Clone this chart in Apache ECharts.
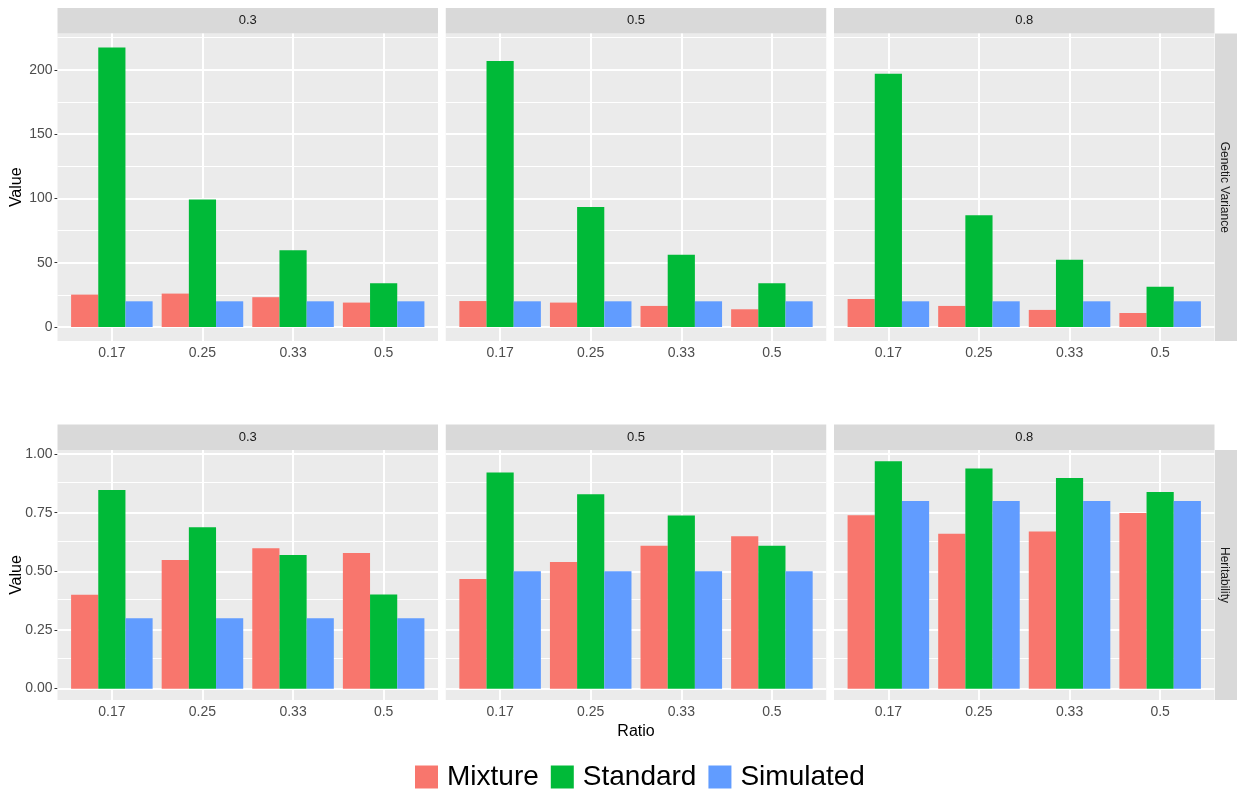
<!DOCTYPE html>
<html>
<head>
<meta charset="utf-8">
<script src="https://cdn.jsdelivr.net/npm/echarts@6/dist/echarts.min.js"></script>
<style>
  html, body { margin: 0; padding: 0; background: #fff; }
  #chart { width: 1237px; height: 793px; }
</style>
</head>
<body>
<div id="chart"></div>
<script>
var ratios = ['0.17', '0.25', '0.33', '0.5']
var facets = ['0.3', '0.5', '0.8']
var rowNames = ['Genetic Variance', 'Heritability']
var methods = ['Mixture', 'Standard', 'Simulated']

// genetic variance, one inner list per facet (0.3, 0.5, 0.8)
var gvMixture = [[25.2, 26.0, 23.2, 19.0], [20.2, 19.0, 16.4, 13.8], [21.8, 16.4, 13.3, 10.9]]
var gvStandard = [[217.4, 99.1, 59.8, 34.0], [206.8, 93.4, 56.3, 34.0], [197.0, 86.9, 52.4, 31.4]]
var gvSimulated = [[20, 20, 20, 20], [20, 20, 20, 20], [20, 20, 20, 20]]

// heritability
var hMixture = [[0.40, 0.548, 0.599, 0.578], [0.467, 0.540, 0.609, 0.650], [0.739, 0.660, 0.670, 0.749]]
var hStandard = [[0.847, 0.688, 0.570, 0.401], [0.921, 0.829, 0.738, 0.609], [0.969, 0.939, 0.898, 0.838]]
var hSimulated = [[0.3, 0.3, 0.3, 0.3], [0.5, 0.5, 0.5, 0.5], [0.8, 0.8, 0.8, 0.8]]

var gvTicks = [0, 50, 100, 150, 200]
var gvMinor = [25, 75, 125, 175, 225]
var hTicks = [0, 0.25, 0.5, 0.75, 1]
var hMinor = [0.125, 0.375, 0.625, 0.875]

var colors = ['#F8766D', '#00BA38', '#619CFF']
var font = '"Liberation Sans", Arial, sans-serif'

// layout of the facet panels
var panelLeft = [57.5, 445.75, 834]
var panelW = 380.5
var inset = panelW / 4.2 * 0.1
var stripH = 25.5

var rows = [
  { data: [gvMixture, gvStandard, gvSimulated], ticks: gvTicks, minor: gvMinor, top: 33.5, height: 307.5,
    fmt: function (v) { return String(v) } },
  { data: [hMixture, hStandard, hSimulated], ticks: hTicks, minor: hMinor, top: 450, height: 250,
    fmt: function (v) { return v.toFixed(2) } }
]

var grid = []
var xAxis = []
var yAxis = []
var series = []
var graphic = []

function rangeOf (lists) {
  var mx = 0
  lists.forEach(function (l) { l.forEach(function (f) { f.forEach(function (v) { mx = Math.max(mx, v) }) }) })
  // ggplot style 5% expansion
  return [-mx * 0.05, mx * 1.05]
}

rows.forEach(function (row, r) {
  var rng = rangeOf(row.data)
  facets.forEach(function (facet, c) {
    var left = panelLeft[c]
    // outer grid: panel background, y labels, horizontal grid lines
    var g = grid.length
    grid.push({ left: left, top: row.top, width: panelW, height: row.height, show: true,
      backgroundColor: '#EBEBEB', borderWidth: 0 })
    xAxis.push({ gridIndex: g, type: 'value', show: false, min: 0, max: 1 })
    yAxis.push({
      gridIndex: g, type: 'value', min: rng[0], max: rng[1],
      axisLine: { show: false },
      splitLine: { show: false },
      axisTick: { show: c === 0, customValues: row.ticks, length: 3, lineStyle: { color: '#333333', width: 1 } },
      axisLabel: { show: c === 0, customValues: row.ticks, formatter: row.fmt, color: '#4D4D4D',
        fontSize: 14, fontFamily: font, margin: 5 }
    })
    var hLines = row.ticks.map(function (v) { return { yAxis: v, lineStyle: { width: 2 } } })
      .concat(row.minor.map(function (v) { return { yAxis: v, lineStyle: { width: 1 } } }))
    series.push({
      type: 'line', xAxisIndex: g, yAxisIndex: g, data: [], silent: true,
      markLine: { silent: true, symbol: 'none', label: { show: false },
        lineStyle: { color: '#FFFFFF', type: 'solid' }, data: hLines }
    })

    // inner grid: bars on the category axis
    var k = grid.length
    grid.push({ left: left + inset, top: row.top, width: panelW - 2 * inset, height: row.height })
    xAxis.push({
      gridIndex: k, type: 'category', data: ratios,
      axisLine: { show: false },
      axisTick: { alignWithLabel: true, length: 3, lineStyle: { color: '#333333', width: 1 } },
      axisLabel: { color: '#4D4D4D', fontSize: 14, fontFamily: font, margin: 5 },
      splitLine: { show: false }
    })
    yAxis.push({ gridIndex: k, type: 'value', min: rng[0], max: rng[1], show: false, splitLine: { show: false } })
    series.push({
      type: 'line', xAxisIndex: k, yAxisIndex: k, data: [], silent: true,
      markLine: { silent: true, symbol: 'none', label: { show: false },
        lineStyle: { color: '#FFFFFF', type: 'solid', width: 2 },
        data: ratios.map(function (x) { return { xAxis: x } }) }
    })
    // bars sit on their own layer so the grid lines stay underneath
    methods.forEach(function (m, i) {
      series.push({
        name: m, type: 'bar', xAxisIndex: k, yAxisIndex: k, zlevel: 1,
        barGap: '0%', barCategoryGap: '10%',
        itemStyle: { color: colors[i] },
        data: row.data[i][c]
      })
    })

    // strip on top
    graphic.push({ type: 'rect', shape: { x: left, y: row.top - stripH, width: panelW, height: stripH },
      style: { fill: '#D9D9D9' } })
    graphic.push({ type: 'text', x: left + panelW / 2, y: row.top - stripH / 2,
      style: { text: facet, align: 'center', verticalAlign: 'middle', fontSize: 13, fontFamily: font, fill: '#1A1A1A' } })
  })

  // strip on the right
  graphic.push({ type: 'rect', shape: { x: 1215, y: row.top, width: 25, height: row.height },
    style: { fill: '#D9D9D9' } })
  graphic.push({ type: 'text', x: 1224, y: row.top + row.height / 2, rotation: -Math.PI / 2,
    style: { text: rowNames[r], align: 'center', verticalAlign: 'middle', fontSize: 12, fontFamily: font, fill: '#1A1A1A' } })
  // y axis title
  graphic.push({ type: 'text', x: 17, y: row.top + row.height / 2, rotation: Math.PI / 2,
    style: { text: 'Value', align: 'center', verticalAlign: 'middle', fontSize: 16, fontFamily: font, fill: '#000' } })
})

graphic.push({ type: 'text', x: 636, y: 731.5,
  style: { text: 'Ratio', align: 'center', verticalAlign: 'middle', fontSize: 16, fontFamily: font, fill: '#000' } })

var option = {
  animation: false,
  backgroundColor: '#FFFFFF',
  grid: grid,
  xAxis: xAxis,
  yAxis: yAxis,
  legend: {
    data: methods,
    left: 410,
    top: 758,
    icon: 'rect',
    itemWidth: 23,
    itemHeight: 23,
    itemGap: 12,
    textStyle: { fontSize: 28, color: '#000', fontFamily: font, padding: [0, 0, 0, 4] }
  },
  graphic: graphic,
  series: series
}

var chart = echarts.init(document.getElementById('chart'))
chart.setOption(option)
</script>
</body>
</html>
